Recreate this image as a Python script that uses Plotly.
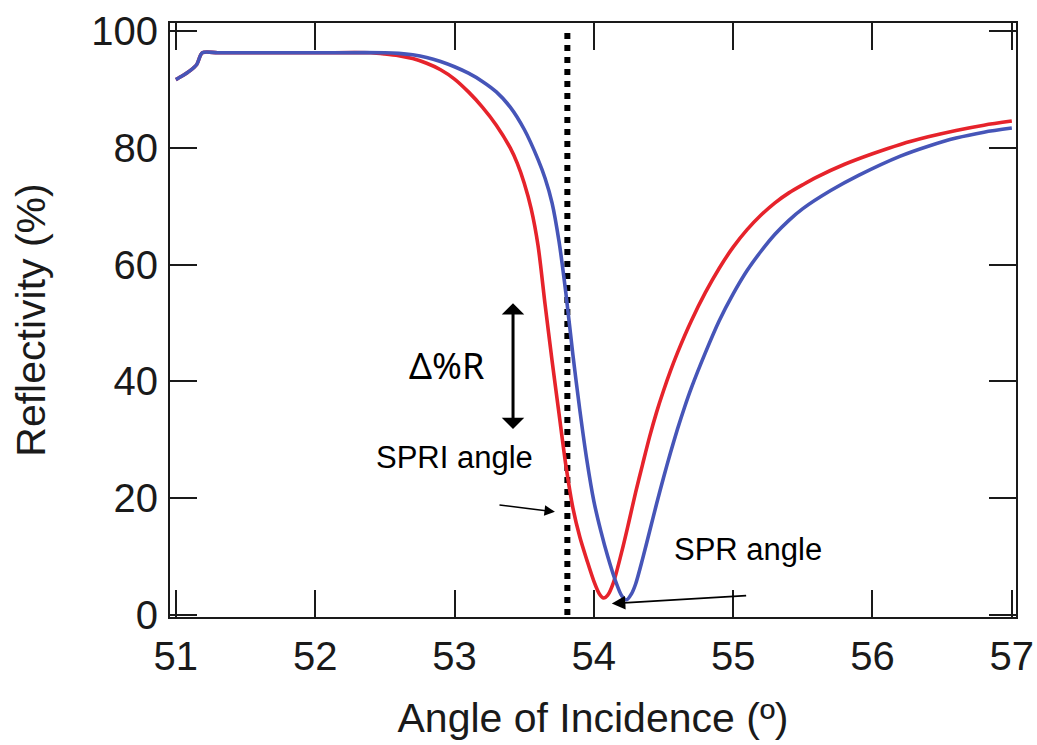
import plotly.graph_objects as go

# ---- data ----
red_angle = [51.00, 51.05, 51.10, 51.15, 51.19, 51.30, 51.50, 52.00, 52.40, 52.50, 52.60, 52.70,
             52.80, 52.90, 53.00, 53.10, 53.20, 53.30, 53.40, 53.45, 53.50, 53.55, 53.60, 53.65,
             53.70, 53.75, 53.80, 53.85, 53.90, 53.95, 54.00, 54.04, 54.07, 54.10, 54.14, 54.20,
             54.25, 54.30, 54.35, 54.40, 54.45, 54.50, 54.55, 54.60, 54.70, 54.80, 54.90, 55.00,
             55.10, 55.20, 55.30, 55.40, 55.50, 55.60, 55.80, 56.00, 56.20, 56.40, 56.60, 56.80, 57.00]
red_refl = [91.7, 92.4, 93.2, 94.3, 96.3, 96.3, 96.3, 96.3, 96.3, 96.1, 95.8, 95.3,
            94.5, 93.4, 91.8, 89.6, 87.0, 83.9, 80.0, 77.4, 74.0, 69.6, 63.2, 53.2,
            43.6, 34.5, 25.5, 18.3, 13.3, 9.4, 5.8, 3.6, 2.9, 3.4, 5.5, 10.8,
            15.8, 21.0, 25.8, 30.5, 34.7, 38.4, 41.8, 44.9, 50.4, 55.2, 59.4, 63.0,
            66.0, 68.5, 70.6, 72.3, 73.7, 75.0, 77.2, 79.0, 80.6, 81.9, 83.0, 83.9, 84.6]

blue_angle = [51.00, 51.05, 51.10, 51.15, 51.19, 51.30, 51.50, 52.00, 52.50, 52.60, 52.70, 52.80,
              52.90, 53.00, 53.10, 53.20, 53.30, 53.40, 53.50, 53.60, 53.65, 53.70, 53.75, 53.80,
              53.85, 53.90, 53.95, 54.00, 54.05, 54.10, 54.15, 54.20, 54.235, 54.27, 54.30, 54.35,
              54.40, 54.45, 54.50, 54.55, 54.60, 54.65, 54.70, 54.80, 54.90, 55.00, 55.10, 55.20,
              55.30, 55.40, 55.50, 55.70, 55.90, 56.20, 56.40, 56.60, 56.80, 57.00]
blue_refl = [91.7, 92.4, 93.2, 94.3, 96.3, 96.3, 96.3, 96.3, 96.3, 96.2, 95.95, 95.5,
             94.8, 93.9, 92.8, 91.4, 89.6, 87.0, 83.2, 78.0, 74.8, 70.6, 64.0, 55.0,
             44.5, 35.0, 26.5, 19.5, 14.4, 10.0, 6.2, 3.3, 2.6, 3.6, 5.3, 9.6,
             14.3, 19.0, 23.5, 27.8, 31.8, 35.5, 38.9, 44.9, 50.4, 55.0, 59.0, 62.3,
             65.2, 67.6, 69.6, 72.7, 75.3, 78.6, 80.3, 81.7, 82.7, 83.4]

spri_angle = 53.81
x_ticks = [51, 52, 53, 54, 55, 56, 57]
y_ticks = [0, 20, 40, 60, 80, 100]

# annotation anchor values (data units)
delta_arrow_x = 53.42
delta_arrow_top = 53.4
delta_arrow_bottom = 31.6
delta_label = (52.94, 42.7)
spri_label = (53.00, 26.9)
spri_arrow_tail = (53.312, 18.86)
spri_arrow_head = (53.721, 17.66)
spr_label = (55.107, 11.2)
spr_arrow_tail = (55.104, 3.33)
spr_arrow_head = (54.129, 1.96)

RED = "#e6232b"
BLUE = "#4655b8"
INK = "#1a1a1a"
FONT = "Liberation Sans, Arial, sans-serif"

fig = go.Figure()
fig.add_trace(go.Scatter(x=[spri_angle, spri_angle], y=[0, 100], mode="lines",
                         line=dict(color="black", width=6, dash="dot"), showlegend=False))
fig.add_trace(go.Scatter(x=red_angle, y=red_refl, mode="lines",
                         line=dict(color=RED, width=3.6, shape="spline", smoothing=0.8),
                         showlegend=False))
fig.add_trace(go.Scatter(x=blue_angle, y=blue_refl, mode="lines",
                         line=dict(color=BLUE, width=3.6, shape="spline", smoothing=0.8),
                         showlegend=False))

ann = []
# double-headed arrow for delta %R
ann.append(dict(x=delta_arrow_x, y=delta_arrow_top, ax=delta_arrow_x, ay=delta_arrow_bottom,
                xref="x", yref="y", axref="x", ayref="y", text="", showarrow=True,
                arrowhead=1, startarrowhead=1, arrowside="end+start", arrowwidth=3,
                arrowsize=1.25, startarrowsize=1.25, arrowcolor="black"))
ann.append(dict(x=delta_label[0], y=delta_label[1], xref="x", yref="y", text="Δ%R",
                showarrow=False, font=dict(family="Noto Sans, sans-serif", size=36, color="black")))
ann.append(dict(x=spri_label[0], y=spri_label[1], xref="x", yref="y", text="SPRI angle",
                showarrow=False, font=dict(family=FONT, size=31, color="black")))
ann.append(dict(x=spri_arrow_head[0], y=spri_arrow_head[1], ax=spri_arrow_tail[0], ay=spri_arrow_tail[1],
                xref="x", yref="y", axref="x", ayref="y", text="", showarrow=True,
                arrowhead=2, arrowwidth=1.5, arrowsize=1.4, arrowcolor="black"))
ann.append(dict(x=spr_label[0], y=spr_label[1], xref="x", yref="y", text="SPR angle",
                showarrow=False, font=dict(family=FONT, size=31, color="black")))
ann.append(dict(x=spr_arrow_head[0], y=spr_arrow_head[1], ax=spr_arrow_tail[0], ay=spr_arrow_tail[1],
                xref="x", yref="y", axref="x", ayref="y", text="", showarrow=True,
                arrowhead=2, arrowwidth=1.8, arrowsize=1.5, arrowcolor="black"))

axis_common = dict(showline=True, linecolor=INK, linewidth=2, mirror="ticks",
                   ticks="inside", ticklen=27, tickwidth=2, tickcolor=INK,
                   showgrid=False, zeroline=False,
                   tickfont=dict(family=FONT, size=40, color=INK))

fig.update_layout(
    width=1037, height=745,
    margin=dict(l=170, r=21, t=23, b=128, autoexpand=False),
    paper_bgcolor="white", plot_bgcolor="white",
    xaxis=dict(range=[50.958, 57.03], tickvals=x_ticks,
               title=dict(text="Angle of Incidence (º)", font=dict(family=FONT, size=41, color=INK), standoff=26),
               ticklabelstandoff=3, **axis_common),
    yaxis=dict(range=[-0.35, 101.4], tickvals=y_ticks,
               title=dict(text="Reflectivity (%)", font=dict(family=FONT, size=41, color=INK), standoff=33),
               ticklabelstandoff=2, **axis_common),
    annotations=ann,
)

fig.write_html("out.html")
